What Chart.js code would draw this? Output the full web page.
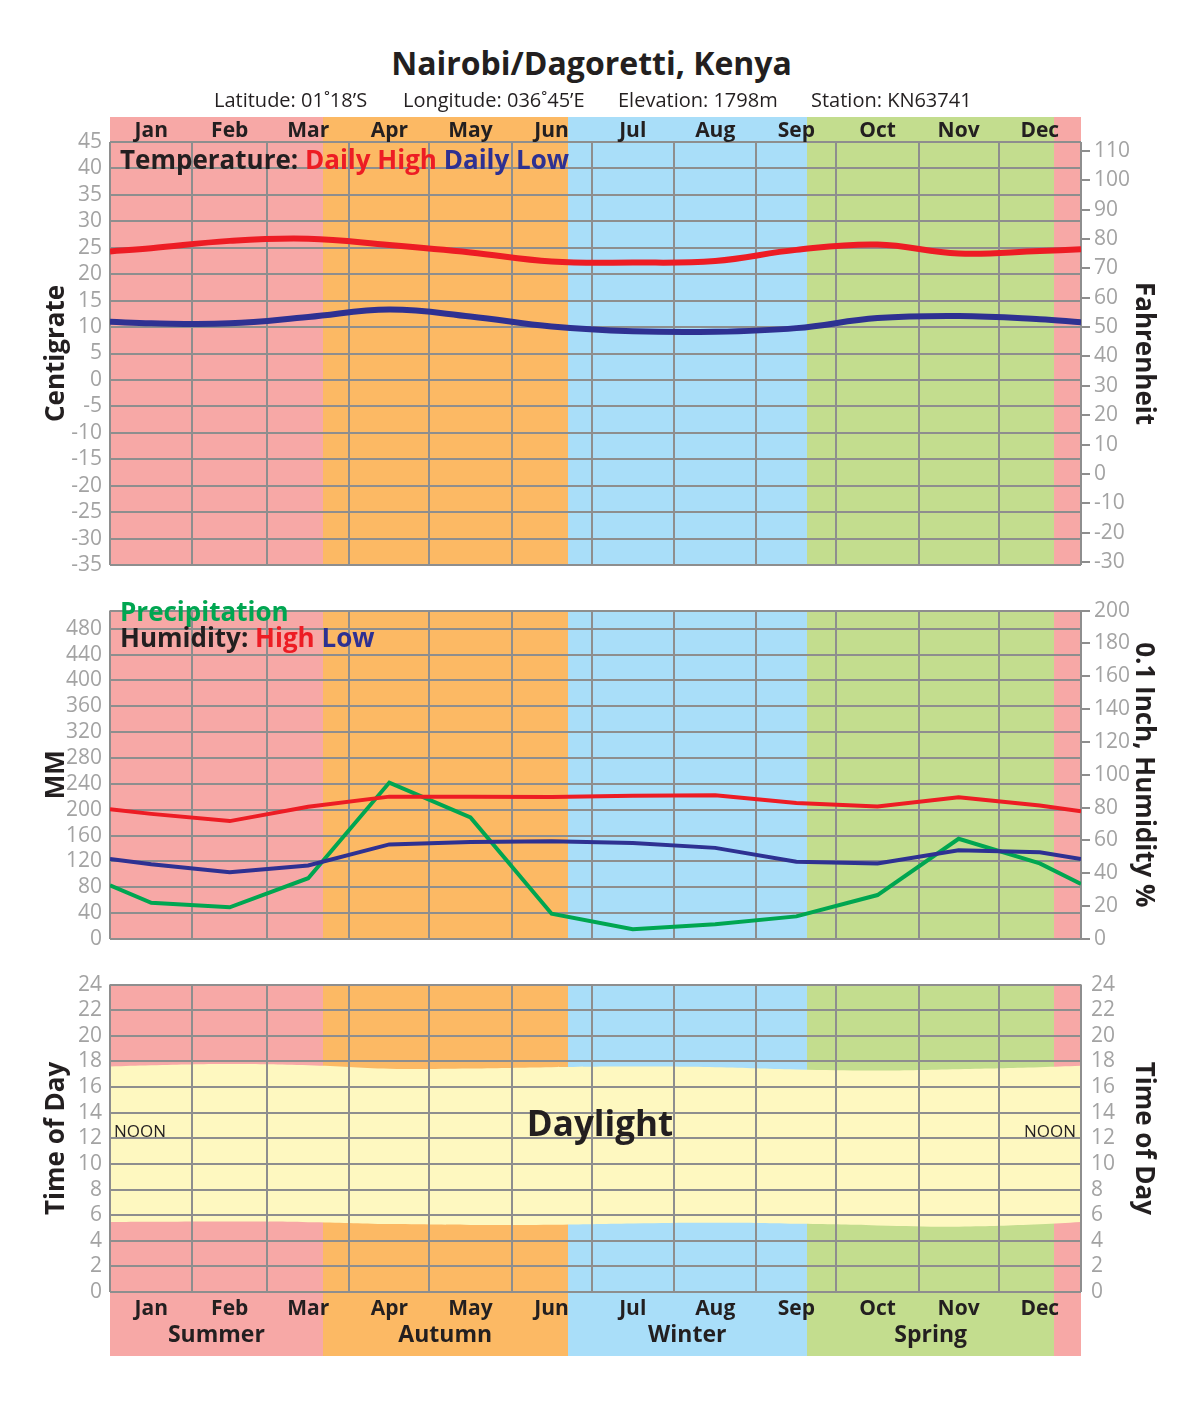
<!DOCTYPE html>
<html>
<head>
<meta charset="utf-8">
<script src="https://cdn.jsdelivr.net/npm/chart.js@4.4.0/dist/chart.umd.min.js"></script>
<style>
  body { margin: 0; background: #fff; font-family: 'Open Sans', sans-serif; }
  #page { position: relative; width: 1200px; height: 1406px; overflow: hidden; }
  canvas { position: absolute; left: 0; }
  .t { position: absolute; white-space: nowrap; color: #231f20; }
  .b { font-weight: 700; }
  .sub { top: 88px; font-size: 20px; line-height: 24px; }
</style>
</head>
<body>
<div id="page">
  <canvas id="tempChart" width="1200" height="482" style="top:105px"></canvas>
  <canvas id="rainChart" width="1200" height="370" style="top:590px"></canvas>
  <canvas id="dayChart" width="1200" height="394" style="top:962px"></canvas>

  <div class="t b" style="left:0;width:1183px;text-align:center;top:43px;font-size:32px;line-height:40px">Nairobi/Dagoretti, Kenya</div>
  <div class="t sub" style="left:214px">Latitude: 01˚18’S</div>
  <div class="t sub" style="left:403px">Longitude: 036˚45’E</div>
  <div class="t sub" style="left:618px">Elevation: 1798m</div>
  <div class="t sub" style="left:811px">Station: KN63741</div>

  <div class="t b" style="left:120px;top:144px;font-size:26px;line-height:30px">Temperature: <span style="color:#ed1c24">Daily High</span> <span style="color:#2e3192">Daily Low</span></div>
  <div class="t b" style="left:120px;top:596px;font-size:26px;line-height:30px;color:#00a651">Precipitation</div>
  <div class="t b" style="left:120px;top:622px;font-size:26px;line-height:30px">Humidity: <span style="color:#ed1c24">High</span> <span style="color:#2e3192">Low</span></div>

  <div class="t b" style="left:0;width:1200px;text-align:center;top:1102px;font-size:35px;line-height:42px">Daylight</div>
  <div class="t" style="left:114px;top:1121px;font-size:17px;line-height:20px">NOON</div>
  <div class="t" style="right:124px;top:1121px;font-size:17px;line-height:20px">NOON</div>
</div>

<script>
// months and seasons (day of year)
const months = ['Jan','Feb','Mar','Apr','May','Jun','Jul','Aug','Sep','Oct','Nov','Dec'];
const monthStart = [0, 31, 59, 90, 120, 151, 181, 212, 243, 273, 304, 334, 365];
const seasons = ['Summer', 'Autumn', 'Winter', 'Spring', ''];
const seasonStart = [0, 80, 172, 262, 355];
const seasonEnd = [80, 172, 262, 355, 365];
const seasonColor = ['#f7a8a6', '#fcb964', '#a9def9', '#c3dd8e', '#f7a8a6'];

// values at year start, mid-month and year end
const pointDays = [0, 15.5, 45, 74.5, 105, 135.5, 166, 196.5, 227.5, 258, 288.5, 319, 349.5, 365];
const tempHigh = [24.3, 24.9, 26.3, 26.7, 25.5, 24.1, 22.4, 22.2, 22.5, 24.6, 25.6, 23.9, 24.4, 24.7];
const tempLow  = [11.0, 10.7, 10.7, 11.9, 13.3, 12.0, 10.1, 9.2, 9.1, 9.8, 11.7, 12.1, 11.5, 10.9];
const precipMM = [83, 56, 49, 94, 242, 188, 39, 15, 23, 35, 68, 155, 117, 85];
const humHigh  = [79, 76.2, 71.8, 80.5, 86.7, 86.7, 86.5, 87.2, 87.5, 82.8, 80.7, 86.3, 81.3, 77.8];
const humLow   = [48.8, 45.5, 40.6, 44.8, 57.6, 59, 59.5, 58.4, 55.5, 47, 46, 54, 52.8, 48.7];
const sunrise  = [5.46, 5.48, 5.5, 5.45, 5.3, 5.23, 5.25, 5.35, 5.4, 5.32, 5.2, 5.1, 5.28, 5.46];
const sunset   = [17.6, 17.7, 17.8, 17.7, 17.43, 17.45, 17.55, 17.6, 17.55, 17.38, 17.3, 17.4, 17.55, 17.66];

// tick labels
const celsiusTicks = [-35, -30, -25, -20, -15, -10, -5, 0, 5, 10, 15, 20, 25, 30, 35, 40, 45];
const fahrenheitTicks = [-30, -20, -10, 0, 10, 20, 30, 40, 50, 60, 70, 80, 90, 100, 110];
const mmTicks = [0, 40, 80, 120, 160, 200, 240, 280, 320, 360, 400, 440, 480];
const mmMax = 508;
const inchTicks = [0, 20, 40, 60, 80, 100, 120, 140, 160, 180, 200];
const hourTicks = [0, 2, 4, 6, 8, 10, 12, 14, 16, 18, 20, 22, 24];

Chart.defaults.font.family = "'Open Sans', sans-serif";
const gridColor = '#8e8e8e';
const tickGrey = '#a3a3a3';
const ink = '#231f20';

const pts = arr => pointDays.map((d, i) => ({x: d, y: arr[i]}));
const setTicks = list => s => { s.ticks = list.map(v => ({value: v})); };

// season colour bands behind the grid
const seasonBands = {
  id: 'seasonBands',
  beforeDraw(chart, args, opts) {
    const {ctx, chartArea} = chart;
    const x = chart.scales.x;
    const top = chartArea.top - (opts.above || 0);
    const bottom = chartArea.bottom + (opts.below || 0);
    ctx.save();
    seasonStart.forEach((s, i) => {
      const x1 = Math.round(x.getPixelForValue(s));
      const x2 = Math.round(x.getPixelForValue(seasonEnd[i]));
      ctx.fillStyle = seasonColor[i];
      ctx.fillRect(x1, top, x2 - x1, bottom - top);
    });
    ctx.restore();
  }
};

function monthGrid(h, gridZ) {
  return {
    type: 'linear', min: 0, max: 365, position: 'bottom', weight: 0,
    afterBuildTicks: setTicks(monthStart),
    afterFit: s => { s.height = h; },
    grid: {color: gridColor, lineWidth: 2, drawTicks: false, z: gridZ || -1},
    border: {display: false},
    ticks: {display: false}
  };
}

function labelAxis(pos, weight, h, pad, size, values, names) {
  return {
    type: 'linear', min: 0, max: 365, position: pos, weight: weight,
    afterBuildTicks: setTicks(values),
    afterFit: s => { s.height = h; },
    grid: {display: false, drawTicks: false},
    border: {display: false},
    ticks: {autoSkip: false, maxRotation: 0, padding: pad, color: ink,
            font: {size: size, weight: 'bold', lineHeight: 1},
            callback: (v, i) => names[i]}
  };
}

function sideAxis(pos, min, max, list, title, onArea, gridZ, label) {
  return {
    position: pos, min: min, max: max,
    afterBuildTicks: setTicks(list),
    afterFit: s => { s.width = pos === 'left' ? 110 : 119; },
    grid: onArea
      ? {color: gridColor, lineWidth: 2, drawTicks: false, z: gridZ || -1}
      : {drawOnChartArea: false, color: gridColor, lineWidth: 2, tickLength: 9, drawTicks: label !== 'noTick'},
    border: {display: false},
    ticks: {autoSkip: false, color: tickGrey, font: {size: 21},
            padding: pos === 'left' ? 8 : (label === 'noTick' ? 10 : 4),
            callback: v => (v === mmMax ? '' : v)},
    title: {display: true, text: title, color: ink, font: {size: 26, weight: 'bold'}, padding: {top: 41, bottom: 0}}
  };
}

const midMonths = months.map((m, i) => (monthStart[i] + monthStart[i + 1]) / 2);
const midSeasons = seasons.slice(0, 4).map((s, i) => (seasonStart[i] + seasonEnd[i]) / 2);

const common = {
  responsive: false,
  animation: false,
  events: [],
  plugins: {legend: {display: false}, tooltip: {enabled: false}}
};

new Chart(document.getElementById('tempChart'), {
  type: 'line',
  data: {
    datasets: [
      {data: pts(tempHigh), borderColor: '#ed1c24', borderWidth: 6, pointRadius: 0, tension: 0.4, yAxisID: 'y'},
      {data: pts(tempLow), borderColor: '#2e3192', borderWidth: 6, pointRadius: 0, tension: 0.4, yAxisID: 'y'}
    ]
  },
  options: Object.assign({}, common, {
    layout: {padding: 0},
    plugins: Object.assign({}, common.plugins, {seasonBands: {above: 25, below: 0}}),
    scales: {
      x: monthGrid(22),
      xm: labelAxis('top', 0, 37, 0, 21, midMonths, months),
      y: sideAxis('left', -35, 45, celsiusTicks, 'Centigrate', true),
      yF: sideAxis('right', -31, 113, fahrenheitTicks, 'Fahrenheit', false)
    }
  }),
  plugins: [seasonBands]
});

new Chart(document.getElementById('rainChart'), {
  type: 'line',
  data: {
    datasets: [
      {data: pts(humHigh), borderColor: '#ed1c24', borderWidth: 4, pointRadius: 0, tension: 0, yAxisID: 'yH'},
      {data: pts(humLow), borderColor: '#2e3192', borderWidth: 4, pointRadius: 0, tension: 0, yAxisID: 'yH'},
      {data: pts(precipMM), borderColor: '#00a651', borderWidth: 4, pointRadius: 0, tension: 0, yAxisID: 'y'}
    ]
  },
  options: Object.assign({}, common, {
    layout: {padding: {top: 13}},
    plugins: Object.assign({}, common.plugins, {seasonBands: {above: 0, below: 0}}),
    scales: {
      x: monthGrid(21),
      y: sideAxis('left', 0, mmMax, mmTicks.concat([mmMax]), 'MM', true),
      yH: sideAxis('right', 0, 200, inchTicks, '0.1 Inch, Humidity %', false)
    }
  }),
  plugins: [seasonBands]
});

new Chart(document.getElementById('dayChart'), {
  type: 'line',
  data: {
    datasets: [
      {data: pts(sunrise), borderColor: 'rgba(0,0,0,0)', borderWidth: 0, pointRadius: 0, tension: 0.4, fill: false, yAxisID: 'y'},
      {data: pts(sunset), borderColor: 'rgba(0,0,0,0)', borderWidth: 0, pointRadius: 0, tension: 0.4, fill: '-1',
       backgroundColor: '#fef8c0', yAxisID: 'y'}
    ]
  },
  options: Object.assign({}, common, {
    layout: {padding: {top: 14}},
    plugins: Object.assign({}, common.plugins, {seasonBands: {above: 0, below: 64}}),
    scales: {
      x: monthGrid(0, 1),
      xm: labelAxis('bottom', 1, 28, 7, 21, midMonths, months),
      xs: labelAxis('bottom', 2, 36, 4, 23, midSeasons, seasons),
      y: sideAxis('left', 0, 24, hourTicks, 'Time of Day', true, 1),
      yR: sideAxis('right', 0, 24, hourTicks, 'Time of Day', false, 0, 'noTick')
    }
  }),
  plugins: [seasonBands]
});
</script>
</body>
</html>
